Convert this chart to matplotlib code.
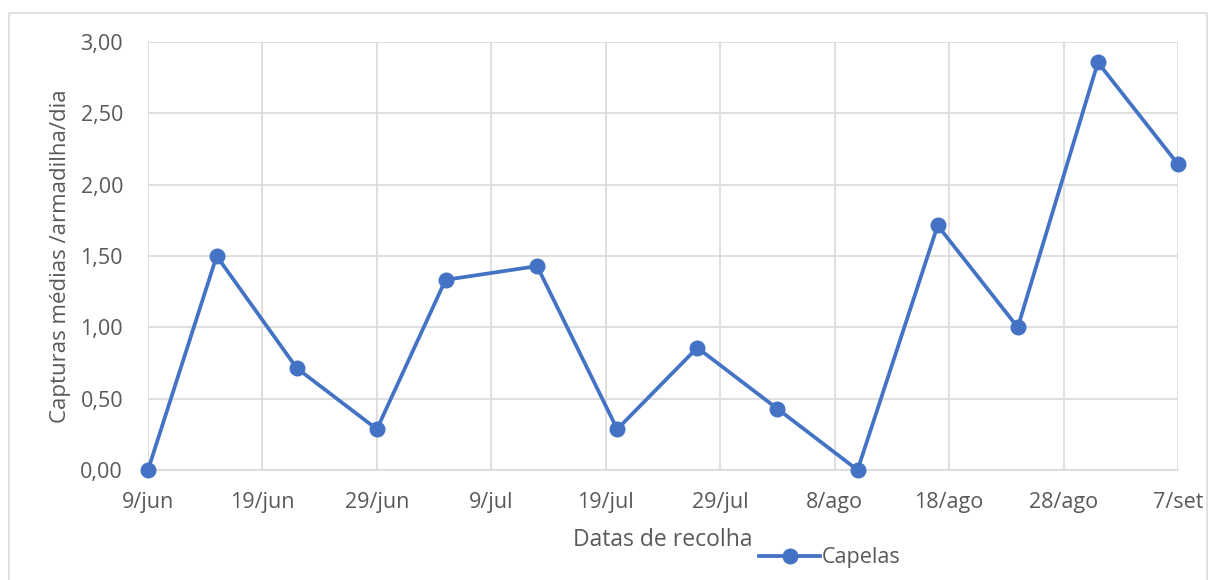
import matplotlib
matplotlib.use("Agg")
import matplotlib.pyplot as plt
import pandas as pd
from matplotlib.patches import Rectangle

dates = ["2020-06-09", "2020-06-15", "2020-06-22", "2020-06-29", "2020-07-05",
         "2020-07-13", "2020-07-20", "2020-07-27", "2020-08-03", "2020-08-10",
         "2020-08-17", "2020-08-24", "2020-08-31", "2020-09-07"]
capelas = [0.00, 1.50, 0.714, 0.286, 1.333, 1.429, 0.286, 0.857, 0.429, 0.00,
           1.714, 1.00, 2.857, 2.143]
tick_dates = ["2020-06-09", "2020-06-19", "2020-06-29", "2020-07-09", "2020-07-19",
              "2020-07-29", "2020-08-08", "2020-08-18", "2020-08-28", "2020-09-07"]
tick_labels = ["9/jun", "19/jun", "29/jun", "9/jul", "19/jul", "29/jul",
               "8/ago", "18/ago", "28/ago", "7/set"]
y_ticks = [0.0, 0.5, 1.0, 1.5, 2.0, 2.5, 3.0]
y_labels = ["0,00", "0,50", "1,00", "1,50", "2,00", "2,50", "3,00"]

plt.rcParams['font.family'] = ['Open Sans', 'DejaVu Sans']
txt = "#595959"
grid = "#D9D9D9"
blue = "#4472C4"
fs = 15.5

fig = plt.figure(figsize=(12.09, 5.80), dpi=100)
fig.patches.append(Rectangle((9/1209, -0.01), (1207-9)/1209, 1 - 13/580 + 0.01,
                             transform=fig.transFigure, fill=False,
                             edgecolor=grid, linewidth=1.2))
ax = fig.add_axes([148/1209, 1 - 470/580, (1178-148)/1209, (470-42)/580])

x = pd.to_datetime(dates)
xt = pd.to_datetime(tick_dates)
line, = ax.plot(x, capelas, color=blue, linewidth=2.7, marker='o', markersize=10.5,
                label="Capelas", clip_on=False, zorder=3)

ax.set_xlim(xt[0], xt[-1])
ax.set_ylim(0, 3.0)
ax.set_xticks(xt)
ax.set_xticklabels(tick_labels)
ax.set_yticks(y_ticks)
ax.set_yticklabels(y_labels)
ax.grid(True, color=grid, linewidth=1.2)
ax.set_axisbelow(True)
for s in ax.spines.values():
    s.set_visible(False)
ax.spines['bottom'].set_visible(True)
ax.spines['bottom'].set_color(grid)
ax.spines['bottom'].set_linewidth(1.2)
ax.tick_params(length=0, labelsize=fs, labelcolor=txt, pad=16)
ax.tick_params(axis='y', pad=18)

ax.set_xlabel("Datas de recolha", fontsize=16.5, color=txt, labelpad=11)
ax.set_ylabel("Capturas médias /armadilha/dia", fontsize=16, color=txt, labelpad=7)

fig.legend(handles=[line], loc='center', bbox_to_anchor=(830/1209, 1 - 558/580),
           frameon=False, fontsize=fs, labelcolor=txt, handlelength=2.8,
           handletextpad=0.1, borderpad=0)

fig.savefig("out.png", dpi=100)
